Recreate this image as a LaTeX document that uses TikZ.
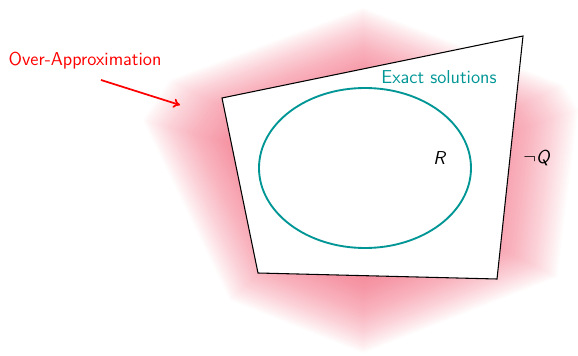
\documentclass[tikz,border=0pt]{standalone}
\usetikzlibrary{arrows.meta}
\definecolor{apx}{RGB}{240,80,105}
\definecolor{exact}{RGB}{0,150,150}
\tikzset{
  lbl/.style={font=\sffamily\fontsize{14}{16}\selectfont, inner sep=0pt},
  quad/.style={draw=black, fill=white, line width=0.8pt, line join=miter},
  exactset/.style={draw=exact, line width=1.4pt},
  pointer/.style={draw=red, line width=1.3pt, -{To[length=5pt,width=7pt]}},
}
\begin{document}
\begin{tikzpicture}[x=0.75pt,y=-0.75pt]
\useasboundingbox (0,0) rectangle (578,356);
% over-approximation glow
\foreach \s in {1.00,0.99,...,0.55}{
  \fill[apx, opacity=0.022, shift={(365,180)}, scale=\s]
    (143-365,120-180) -- (170-365,80-180) -- (363-365,8-180) -- (563-365,85-180)
    -- (578-365,110-180) -- (557-365,277-180) -- (363-365,353-180) -- (230-365,300-180) -- cycle;
}
% set Q complement boundary
\draw[quad] (222,98) -- (523,36) -- (497,279) -- (258,273) -- cycle;
% exact solutions
\draw[exactset] (365,168) ellipse [x radius=106, y radius=80];
\node[lbl, text=exact] (ex) at (439,77) {Exact solutions};
\node[lbl] (r) at (440,158) {\textit{R}};
\node[lbl] (nq) at (537,158) {$\neg$\textit{Q}};
\node[lbl, text=red] (oa) at (85,61) {Over-Approximation};
\coordinate (tip) at (180,105);
\draw[pointer] (101,80) -- (tip);
\end{tikzpicture}
\end{document}
